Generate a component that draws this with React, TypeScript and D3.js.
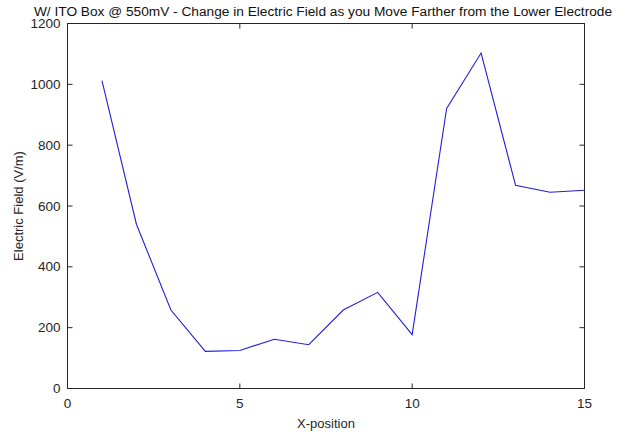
import React from "react";
import * as d3 from "d3";

const xPositions = [1, 2, 3, 4, 5, 6, 7, 8, 9, 10, 11, 12, 13, 14, 15];
const fieldValues = [1012, 540, 258, 122, 125, 162, 144, 258, 316, 177, 921, 1103, 668, 645, 652];
const xTicks = [0, 5, 10, 15];
const yTicks = [0, 200, 400, 600, 800, 1000, 1200];

const W = 629;
const H = 434;
const M = { left: 67.5, right: 584.5, top: 23.5, bottom: 388.5 };
const FONT = "'Liberation Sans', Arial, Helvetica, sans-serif";
const TXT = "#262626";

export default function App() {
  const x = d3.scaleLinear().domain([0, 15]).range([M.left, M.right]);
  const y = d3.scaleLinear().domain([0, 1200]).range([M.bottom, M.top]);
  const line = d3
    .line<number>()
    .x((_, i) => x(xPositions[i]))
    .y((d) => y(d));
  const tl = 5;
  return (
    <svg
      width={W}
      height={H}
      style={{ position: "absolute", left: 0, top: 0, background: "#fff" }}
      fontFamily={FONT}
    >
      <rect x={0} y={0} width={W} height={H} fill="#fff" />
      <path d={line(fieldValues) || ""} fill="none" stroke="#2020d8" strokeWidth={1.1} />
      <rect
        x={M.left}
        y={M.top}
        width={M.right - M.left}
        height={M.bottom - M.top}
        fill="none"
        stroke={TXT}
        strokeWidth={1}
      />
      {xTicks.map((t) => (
        <g key={"x" + t}>
          <line x1={x(t)} x2={x(t)} y1={M.bottom} y2={M.bottom - tl} stroke={TXT} />
          <line x1={x(t)} x2={x(t)} y1={M.top} y2={M.top + tl} stroke={TXT} />
          <text x={x(t)} y={M.bottom + 19.5} textAnchor="middle" fontSize={13.5} fill={TXT}>
            {t}
          </text>
        </g>
      ))}
      {yTicks.map((t) => (
        <g key={"y" + t}>
          <line x1={M.left} x2={M.left + tl} y1={y(t)} y2={y(t)} stroke={TXT} />
          <line x1={M.right} x2={M.right - tl} y1={y(t)} y2={y(t)} stroke={TXT} />
          <text x={M.left - 7} y={y(t) + 4.5} textAnchor="end" fontSize={13.5} fill={TXT}>
            {t}
          </text>
        </g>
      ))}
      <text x={(M.left + M.right) / 2} y={428} textAnchor="middle" fontSize={13} fill={TXT}>
        X-position
      </text>
      <text
        transform={`translate(23,${(M.top + M.bottom) / 2}) rotate(-90)`}
        textAnchor="middle"
        fontSize={13}
        fill={TXT}
      >
        Electric Field (V/m)
      </text>
      <text x={(M.left + M.right) / 2 - 3} y={16} textAnchor="middle" fontSize={13.7} fill="#111">
        W/ ITO Box @ 550mV - Change in Electric Field as you Move Farther from the Lower Electrode
      </text>
    </svg>
  );
}
